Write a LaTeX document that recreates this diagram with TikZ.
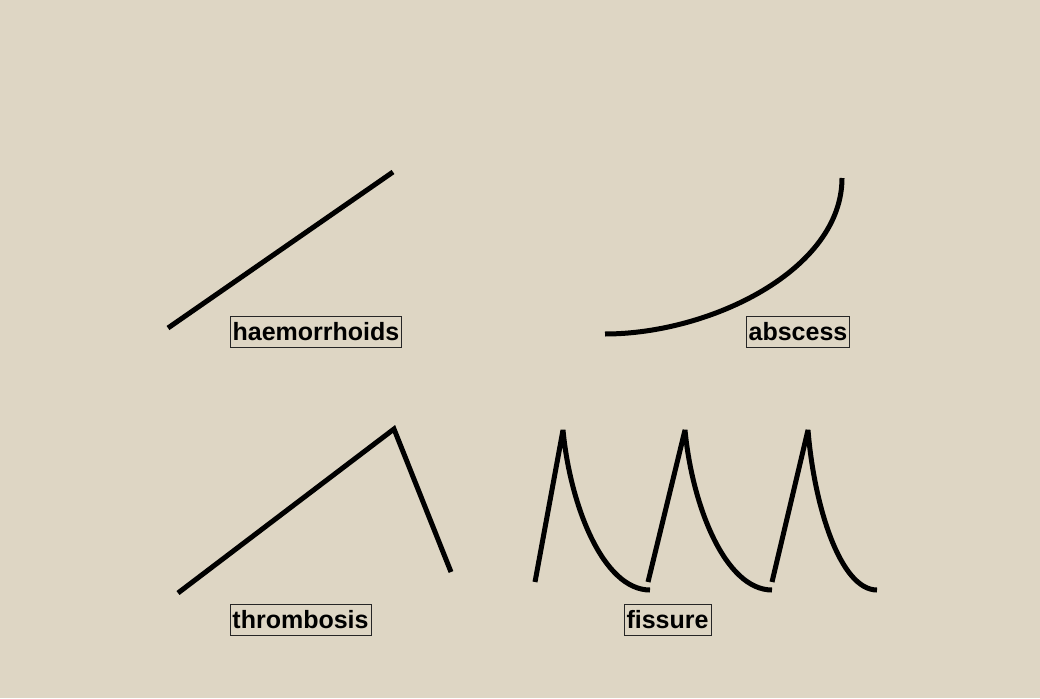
\documentclass[tikz,border=0pt]{standalone}
\usepackage{fontspec}
\setmainfont{Liberation Sans}
\begin{document}
\begin{tikzpicture}[x=1pt,y=-1pt,
  curve/.style={line width=5pt,line join=miter,black},
  spike/.style={curve,line join=bevel},
  label/.style={draw=black!85,line width=0.8pt,font=\bfseries\fontsize{25}{30}\selectfont,
    text height=18pt,text depth=1pt,inner ysep=6pt,inner xsep=2.5pt}]
\definecolor{canvas}{RGB}{222,214,196}
\fill[canvas] (0,0) rectangle (1040,698);
\useasboundingbox (0,0) rectangle (1040,698);
% haemorrhoids
\coordinate (h1) at (168,328);
\coordinate (h2) at (393,172);
\draw[curve] (h1) -- (h2);
\node[label] (hl) at (316,331.5) {haemorrhoids};
% abscess
\coordinate (a1) at (605,334);
\coordinate (a2) at (842,178);
\draw[curve] (a1) .. controls (710,334) and (842,270) .. (a2);
\node[label] (al) at (798,331.5) {abscess};
% thrombosis
\coordinate (t1) at (178,593);
\coordinate (t2) at (394,429);
\coordinate (t3) at (451,572);
\draw[curve] (t1) -- (t2) -- (t3);
\node[label] (tl) at (300.5,620) {thrombosis};
% fissure
\coordinate (f1s) at (535,582);
\coordinate (f1p) at (563,430);
\coordinate (f1e) at (650,590);
\coordinate (f2s) at (648,582);
\coordinate (f2p) at (685,430);
\coordinate (f2e) at (772,590);
\coordinate (f3s) at (772,582);
\coordinate (f3p) at (808,430);
\coordinate (f3e) at (877,590);
\draw[spike] (f1s) -- (f1p) .. controls (570,505) and (603,590) .. (f1e);
\draw[spike] (f2s) -- (f2p) .. controls (692,505) and (725,590) .. (f2e);
\draw[spike] (f3s) -- (f3p) .. controls (814,505) and (840,590) .. (f3e);
\node[label] (fl) at (667.5,620) {fissure};
\end{tikzpicture}
\end{document}
